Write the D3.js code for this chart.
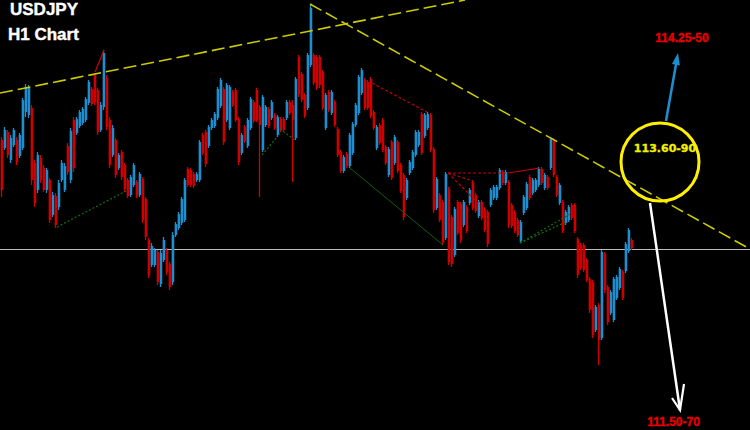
<!DOCTYPE html>
<html><head><meta charset="utf-8">
<script src="https://cdn.jsdelivr.net/npm/d3@7"></script>
<style>html,body{margin:0;padding:0;background:#000;overflow:hidden} svg{display:block}</style>
</head><body><svg id="c" width="750" height="430"></svg>
<script>
const symbolName = "USDJPY";
const chartTitle = "H1 Chart";
// H1 candles: [open, high, low, close]
const ohlc = [
[113.60,113.63,113.03,113.10],[113.52,113.73,113.50,113.70],[113.68,113.70,113.42,113.45],[113.40,113.65,113.37,113.62],
[113.55,113.72,113.53,113.70],[113.60,113.63,113.35,113.38],[113.44,113.67,113.42,113.65],[113.52,114.02,113.50,114.00],
[113.88,114.16,113.83,114.13],[113.85,114.15,113.82,114.12],[113.92,113.95,113.15,113.20],[113.37,113.40,112.93,112.97],
[113.10,113.48,113.07,113.45],[113.42,113.45,113.17,113.20],[113.32,113.35,113.08,113.10],[113.10,113.32,113.07,113.30],
[113.20,113.22,112.77,112.80],[112.85,113.08,112.83,113.05],[113.04,113.07,112.72,112.75],[112.93,113.20,112.90,113.17],
[113.20,113.40,113.18,113.37],[113.10,113.37,113.08,113.34],[113.54,113.57,113.25,113.28],[113.20,113.72,113.17,113.69],
[113.80,113.83,113.28,113.32],[113.67,113.83,113.65,113.81],[113.74,113.90,113.72,113.88],[113.77,113.93,113.75,113.91],
[113.80,114.03,113.78,114.01],[113.97,114.20,113.95,114.18],[114.11,114.13,113.94,113.96],[114.25,114.27,113.95,113.98],
[114.10,114.12,113.65,113.68],[113.70,113.98,113.68,113.95],[113.93,114.50,113.90,114.47],[114.22,114.25,113.70,113.73],
[113.80,113.83,113.32,113.35],[113.45,113.75,113.43,113.72],[113.60,113.62,113.22,113.25],[113.32,113.47,113.30,113.45],
[113.48,113.50,113.20,113.23],[113.35,113.37,113.08,113.11],[113.20,113.22,113.02,113.04],[113.05,113.25,113.03,113.23],
[113.15,113.37,113.13,113.35],[113.18,113.20,113.02,113.04],[113.05,113.28,113.03,113.26],[113.21,113.23,112.77,112.80],
[113.01,113.03,112.60,112.63],[112.60,112.62,112.22,112.25],[112.35,112.57,112.33,112.54],[112.35,112.52,112.33,112.50],
[112.48,112.50,112.15,112.18],[112.16,112.50,112.13,112.47],[112.40,112.63,112.38,112.60],[112.50,112.52,112.25,112.28],
[112.36,112.38,112.10,112.13],[112.18,112.68,112.15,112.65],[112.65,112.78,112.63,112.76],[112.72,112.88,112.70,112.86],
[112.77,113.03,112.75,113.01],[112.80,113.22,112.78,113.20],[113.31,113.33,113.13,113.15],[113.30,113.32,113.13,113.15],
[113.26,113.28,113.12,113.14],[113.20,113.28,113.18,113.26],[113.20,113.60,113.18,113.58],[113.65,113.67,113.45,113.47],
[113.68,113.70,113.33,113.36],[113.54,113.75,113.52,113.73],[113.72,113.82,113.70,113.80],[113.74,113.88,113.72,113.86],
[113.82,114.13,113.80,114.11],[113.94,114.22,113.92,114.20],[114.11,114.13,113.55,113.58],[113.80,114.17,113.78,114.15],
[113.72,114.15,113.70,114.13],[114.08,114.10,113.93,113.95],[114.10,114.12,113.78,113.80],[113.81,113.83,113.35,113.38],
[113.47,113.67,113.45,113.65],[113.73,113.75,113.57,113.59],[113.54,113.82,113.52,113.80],[113.72,114.03,113.70,114.01],
[113.98,114.00,113.77,113.79],[114.10,114.12,113.78,113.80],[113.93,113.95,113.03,113.75],[113.50,114.05,113.48,114.03],
[113.75,113.95,113.73,113.93],[113.91,113.93,113.72,113.74],[113.82,114.00,113.80,113.98],[113.85,113.87,113.70,113.72],
[113.65,113.85,113.63,113.83],[113.81,113.83,113.68,113.70],[113.81,113.83,113.68,113.70],[113.82,114.00,113.80,113.98],
[113.98,114.00,113.85,113.87],[113.95,114.00,113.18,113.80],[113.62,114.23,113.60,114.21],[114.43,114.45,114.03,114.06],
[114.26,114.28,113.98,114.00],[114.05,114.07,113.82,113.84],[113.92,114.47,113.90,114.45],[114.35,114.95,114.33,114.92],
[114.45,114.47,114.15,114.17],[114.43,114.45,114.10,114.12],[114.43,114.45,114.12,114.15],[114.28,114.30,113.90,113.92],
[113.72,114.07,113.70,114.05],[114.08,114.10,113.88,113.90],[113.87,114.10,113.85,114.08],[113.98,114.00,113.73,113.75],
[113.71,113.73,113.43,113.45],[113.48,113.50,113.27,113.29],[113.29,113.45,113.27,113.43],[113.46,113.48,113.32,113.34],
[113.34,113.67,113.32,113.65],[113.47,113.78,113.45,113.76],[113.75,113.97,113.73,113.95],[113.87,114.25,113.85,114.23],
[114.07,114.32,114.05,114.30],[114.20,114.22,113.90,113.92],[114.18,114.20,113.90,113.92],[114.21,114.23,113.82,113.84],
[113.88,113.90,113.70,113.72],[113.52,113.75,113.50,113.73],[113.75,113.77,113.55,113.57],[113.80,113.82,113.48,113.50],
[113.53,113.55,113.35,113.37],[113.25,113.53,113.23,113.51],[113.58,113.60,113.20,113.22],[113.37,113.65,113.35,113.63],
[113.58,113.60,113.27,113.29],[113.35,113.37,113.07,113.09],[113.25,113.27,112.80,112.83],[113.02,113.22,113.00,113.20],
[113.27,113.40,113.25,113.38],[113.32,113.50,113.30,113.48],[113.45,113.70,113.43,113.68],[113.55,113.70,113.53,113.68],
[113.86,113.88,113.45,113.47],[113.64,113.87,113.62,113.85],[113.72,113.88,113.70,113.86],[113.85,113.87,113.48,113.50],
[113.51,113.53,112.87,112.90],[112.92,113.23,112.90,113.21],[113.05,113.07,112.78,112.80],[112.98,113.00,112.55,112.58],
[112.62,113.28,112.60,113.26],[113.11,113.13,112.35,112.38],[112.83,112.85,112.33,112.36],[112.45,112.93,112.43,112.91],
[112.98,113.00,112.65,112.67],[112.96,112.98,112.57,112.60],[112.75,113.00,112.73,112.98],[112.93,112.95,112.67,112.69],
[112.97,113.12,112.95,113.10],[113.18,113.20,112.90,112.92],[113.05,113.07,112.87,112.89],[112.84,113.00,112.82,112.98],
[112.98,113.00,112.80,112.82],[112.91,112.93,112.68,112.70],[112.88,112.90,112.53,112.56],[112.95,113.12,112.93,113.10],
[113.02,113.15,113.00,113.13],[113.02,113.15,113.00,113.13],[113.12,113.32,113.10,113.30],[113.28,113.30,113.15,113.17],
[113.17,113.30,113.15,113.28],[113.18,113.20,112.72,112.75],[112.95,112.97,112.72,112.74],[112.88,112.90,112.67,112.69],
[112.80,112.82,112.63,112.65],[112.59,112.80,112.57,112.78],[112.87,113.05,112.85,113.03],[112.92,113.18,112.90,113.16],
[113.23,113.25,113.00,113.02],[113.07,113.22,113.05,113.20],[113.10,113.22,113.08,113.20],[113.15,113.33,113.13,113.31],
[113.31,113.33,113.15,113.17],[113.12,113.27,113.10,113.25],[113.23,113.25,113.10,113.12],[113.32,113.63,113.30,113.61],
[113.60,113.62,113.23,113.25],[113.23,113.25,113.03,113.05],[112.97,113.17,112.95,113.15],[112.98,113.00,112.67,112.69],
[112.77,112.90,112.75,112.88],[112.80,112.95,112.78,112.93],[112.95,112.97,112.80,112.82],[112.95,112.97,112.67,112.69],
[112.61,112.63,112.22,112.25],[112.55,112.57,112.30,112.32],[112.55,112.57,112.28,112.30],[112.40,112.42,112.18,112.20],
[112.21,112.23,111.87,111.90],[112.18,112.20,111.62,111.65],[111.70,111.95,111.68,111.93],[111.95,111.97,111.35,111.60],
[111.62,112.50,111.60,112.48],[112.46,112.48,112.07,112.10],[112.13,112.15,111.75,111.78],[111.87,112.10,111.85,112.08],
[111.80,112.23,111.78,112.21],[112.02,112.25,112.00,112.23],[112.12,112.33,112.10,112.31],[112.28,112.30,112.00,112.02],
[112.29,112.58,112.27,112.56],[112.49,112.72,112.47,112.70],[112.60,112.62,112.50,112.52]
];
// horizontal level
const levels = [112.51];
// trend lines: [[barIndex, price], [barIndex, price]]
const yellowLines = [
  [[-0.5,114.07],[154.5,115.00]],
  [[102.83,114.96],[249.5,112.51]]
];
const greenDotted = [
  [[18.5,112.73],[42.17,113.10]],
  [[86.83,113.45],[91.83,113.63]],
  [[92.83,113.71],[97.83,113.60]],
  [[172.83,112.57],[189.5,112.86]],
  [[172.83,112.57],[188.17,112.78]]
];
const greenSolid = [
  [[116.17,113.32],[147.17,112.55]]
];
const redDotted = [
  [[123.5,114.17],[141.83,113.88]],
  [[148.83,113.27],[168.83,113.27]],
  [[148.83,113.27],[157.17,113.19]],
  [[148.83,113.27],[159.5,112.95]]
];
const redSolid = [
  [[168.83,113.27],[179.5,113.32]],
  [[31.17,114.28],[34.17,114.50]]
];
// annotations
const zoneLabel = {text:"113.60-90", at:[221.17,113.48]};
const zoneCenter = [219.5,113.38];
const upTarget = {text:"114.25-50", at:[226.83,114.58], from:[221.5,113.79], to:[225.5,114.47]};
const downTarget = {text:"111.50-70", at:[224,110.74], from:[216.17,112.97], to:[226.17,110.90]};

const W = 750, H = 430;
const svg = d3.select("#c");
svg.append("rect").attr("width",W).attr("height",H).attr("fill","#000");

const x = d3.scaleLinear().domain([0, ohlc.length-1]).range([1.5, 631.5]);
const y = d3.scaleLinear().domain([110.70, 115.00]).range([H, 0]);

const UP = "#1c8fd0", DN = "#d00000";

// horizontal level
svg.selectAll(".lvl").data(levels).join("line")
  .attr("x1",0).attr("x2",W).attr("y1",d=>Math.round(y(d))+0.5).attr("y2",d=>Math.round(y(d))+0.5)
  .attr("stroke","#bdbdbd").attr("stroke-width",1);

// candles
const g = svg.append("g");
const cg = g.selectAll("g.c").data(ohlc).join("g");
cg.append("line")
  .attr("x1",(d,i)=>x(i)).attr("x2",(d,i)=>x(i))
  .attr("y1",d=>y(d[1])).attr("y2",d=>y(d[2]))
  .attr("stroke",d=>d[3]>=d[0]?UP:DN).attr("stroke-width",1.3);
cg.append("rect")
  .attr("x",(d,i)=>x(i)-0.75).attr("width",2.5)
  .attr("y",d=>y(Math.max(d[0],d[3])))
  .attr("height",d=>Math.max(1, Math.abs(y(d[0])-y(d[3]))))
  .attr("fill",d=>d[3]>=d[0]?UP:DN);

function drawLines(data, stroke, width, dash){
  svg.append("g").selectAll("line").data(data).join("line")
    .attr("x1",d=>x(d[0][0])).attr("y1",d=>y(d[0][1]))
    .attr("x2",d=>x(d[1][0])).attr("y2",d=>y(d[1][1]))
    .attr("stroke",stroke).attr("stroke-width",width)
    .attr("stroke-dasharray",dash||null);
}
drawLines(greenSolid, "#145c14", 1);
drawLines(greenDotted, "#107010", 1.2, "2,2");
drawLines(redDotted, "#c00000", 1.2, "3,2");
drawLines(redSolid, "#d00000", 1.2);
drawLines(yellowLines, "#cccc00", 1.6, "13,5");

// titles
const titleFont = "Liberation Sans, Arial, sans-serif";
[[symbolName,10,15],[chartTitle,8,40]].forEach(([t,tx,ty])=>{
  svg.append("text").attr("x",tx).attr("y",ty).text(t)
    .attr("fill","#fff").attr("stroke","#fff").attr("stroke-width",0.4)
    .attr("font-family",titleFont).attr("font-weight","bold").attr("font-size",17);
});

// zone circle
svg.append("circle").attr("cx",x(zoneCenter[0])).attr("cy",y(zoneCenter[1])).attr("r",39)
  .attr("fill","none").attr("stroke","#fff000").attr("stroke-width",3);
svg.append("text").attr("x",x(zoneLabel.at[0])).attr("y",y(zoneLabel.at[1]))
  .attr("text-anchor","middle").text(zoneLabel.text)
  .attr("fill","#f0f000").attr("stroke","#f0f000").attr("stroke-width",0.3)
  .attr("font-family","DejaVu Sans, sans-serif")
  .attr("font-weight","bold").attr("font-size",11);

function targetText(t){
  svg.append("text").attr("x",x(t.at[0])).attr("y",y(t.at[1]))
    .attr("text-anchor","middle").text(t.text)
    .attr("fill","#e60000").attr("stroke","#e60000").attr("stroke-width",0.4)
    .attr("font-family",titleFont).attr("font-weight","bold").attr("font-size",12);
}
// up arrow (blue)
{
  const x1=x(upTarget.from[0]), y1=y(upTarget.from[1]), x2=x(upTarget.to[0]), y2=y(upTarget.to[1]);
  const L=Math.hypot(x2-x1,y2-y1), ux=(x2-x1)/L, uy=(y2-y1)/L, px=-uy, py=ux;
  const hl=12, hw=4;
  svg.append("line").attr("x1",x1).attr("y1",y1).attr("x2",x2-ux*hl*0.8).attr("y2",y2-uy*hl*0.8)
    .attr("stroke","#1c8fd0").attr("stroke-width",2.5);
  svg.append("path").attr("d",`M${x2},${y2}L${x2-ux*hl+px*hw},${y2-uy*hl+py*hw}L${x2-ux*hl-px*hw},${y2-uy*hl-py*hw}Z`)
    .attr("fill","#1c8fd0");
  targetText(upTarget);
}
// down arrow (white)
{
  const x1=x(downTarget.from[0]), y1=y(downTarget.from[1]), x2=x(downTarget.to[0]), y2=y(downTarget.to[1]);
  svg.append("line").attr("x1",x1).attr("y1",y1).attr("x2",x2).attr("y2",y2)
    .attr("stroke","#fff").attr("stroke-width",2.5);
  svg.append("path").attr("d",`M${x2-8},${y2-12}L${x2},${y2}L${x2+4},${y2-26}`)
    .attr("fill","none").attr("stroke","#fff").attr("stroke-width",2.2);
  targetText(downTarget);
}
</script>
</body></html>
